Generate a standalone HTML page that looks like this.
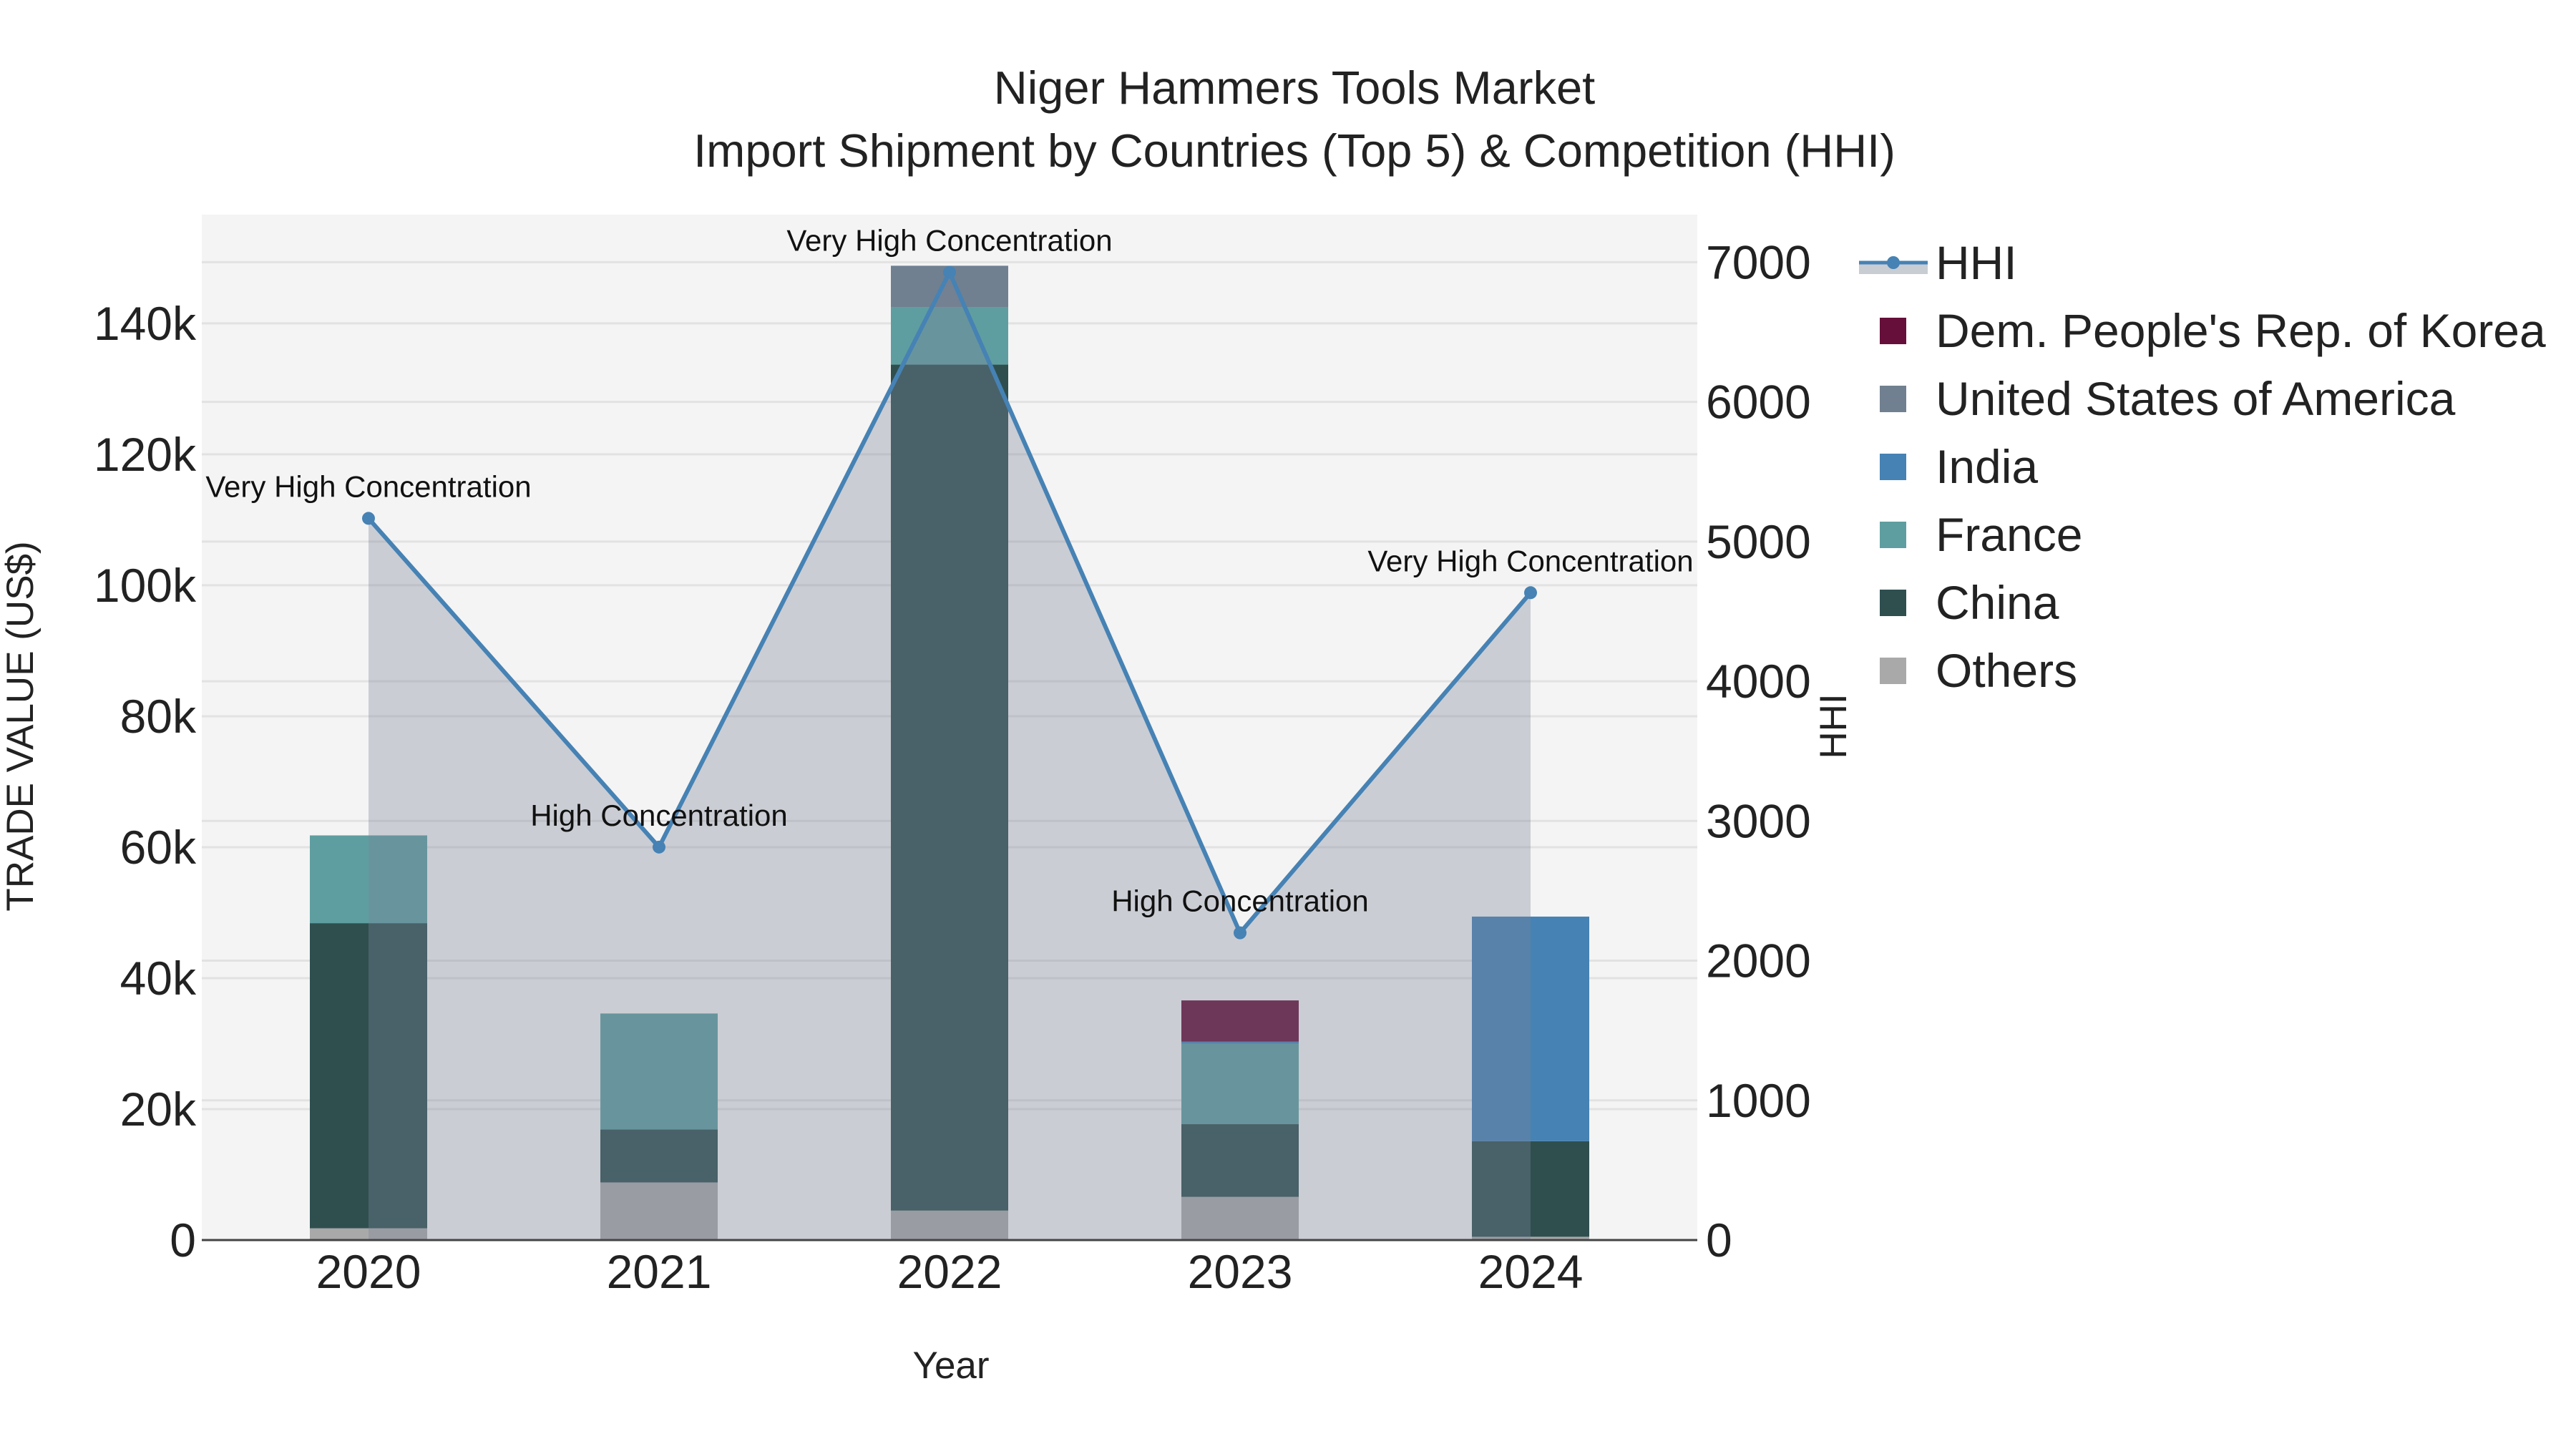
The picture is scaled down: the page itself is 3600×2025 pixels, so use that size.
<!DOCTYPE html>
<html><head><meta charset="utf-8"><style>
html,body{margin:0;padding:0;background:#fff}
svg{display:block;font-family:"Liberation Sans",sans-serif}
</style></head><body>
<svg id="chart" width="3600" height="2025" viewBox="0 0 3600 2025" xmlns="http://www.w3.org/2000/svg">
<rect x="0" y="0" width="3600" height="2025" fill="#fff"/>
<text x="1809" y="145" font-size="65" text-anchor="middle" fill="#222">Niger Hammers Tools Market</text>
<text x="1809" y="233" font-size="65" text-anchor="middle" fill="#222">Import Shipment by Countries (Top 5) &amp; Competition (HHI)</text>
<rect x="282" y="300" width="2090" height="1433" fill="#f4f4f4"/>
<g id="grid"></g>
<g id="bars"></g>
<g id="hhi"></g>
<g id="axes"></g>
<text transform="translate(46,1015) rotate(-90)" font-size="53" text-anchor="middle" fill="#222">TRADE VALUE (US$)</text>
<text x="1329" y="1926" font-size="53" text-anchor="middle" fill="#222">Year</text>
<text transform="translate(2580,1015) rotate(-90)" font-size="53" text-anchor="middle" fill="#222">HHI</text>
<g id="legend"></g>
</svg>
<script>
const years = ["2020","2021","2022","2023","2024"];
const others = [1800, 8800, 4500, 6600, 500];
const china = [46600, 8100, 129200, 11100, 14600];
const france = [13400, 17700, 8800, 12300, 0];
const india = [0, 0, 0, 300, 34300];
const usa = [0, 0, 6300, 0, 0];
const korea = [0, 0, 0, 6300, 0];
const hhi = [5166, 2813, 6927, 2199, 4634];
const hhiLabels = ["Very High Concentration","High Concentration","Very High Concentration","High Concentration","Very High Concentration"];
const yTicks = [0,20000,40000,60000,80000,100000,120000,140000];
const yTickLabels = ["0","20k","40k","60k","80k","100k","120k","140k"];
const y2Ticks = [0,1000,2000,3000,4000,5000,6000,7000];

const NS="http://www.w3.org/2000/svg";
const L=282,R=2372,T=300,B=1733;
const yMax=156600, y2Max=7340;
const yS=v=>B-(v/yMax)*(B-T);
const y2S=v=>B-(v/y2Max)*(B-T);
const xS=i=>515+i*406;
function mk(tag,attrs,parent){const e=document.createElementNS(NS,tag);for(const k in attrs)e.setAttribute(k,attrs[k]);parent.appendChild(e);return e;}
const grid=document.getElementById('grid'),bars=document.getElementById('bars'),hg=document.getElementById('hhi'),axes=document.getElementById('axes'),leg=document.getElementById('legend');

yTicks.forEach((v,i)=>{
  if(v>0){const g=mk('line',{x1:L,x2:R,y1:yS(v),y2:yS(v),stroke:'#e2e2e2','stroke-width':3},grid);
  
  }
  const t=mk('text',{x:L-8,y:yS(v)+23,'font-size':66,'text-anchor':'end',fill:'#222'},axes);
  t.textContent=yTickLabels[i];
  
  
});
y2Ticks.forEach(v=>{
  if(v>0){const g=mk('line',{x1:L,x2:R,y1:y2S(v),y2:y2S(v),stroke:'#e2e2e2','stroke-width':3},grid);
  
  }
  const t=mk('text',{x:R+12,y:y2S(v)+23,'font-size':66,fill:'#222'},axes);
  t.textContent=String(v);
  
  
});
const series=[["others",others,"#a9a9a9"],["china",china,"#2f4f4f"],["france",france,"#5f9ea0"],["india",india,"#4682b4"],["usa",usa,"#708090"],["korea",korea,"#660f3a"]];
years.forEach((yr,i)=>{
  let acc=0;
  series.forEach(([nm,arr,col])=>{
    const v=arr[i]; if(!v) return;
    const r=mk('rect',{x:xS(i)-82,width:164,y:yS(acc+v),height:yS(acc)-yS(acc+v),fill:col},bars);
    
    
    acc+=v;
  });
  const t=mk('text',{x:xS(i),y:1800,'font-size':66,'text-anchor':'middle',fill:'#222'},axes);
  t.textContent=yr;
  
  
});
let pts=hhi.map((v,i)=>xS(i)+','+y2S(v)).join(' ');
const area=mk('polygon',{points:xS(0)+','+B+' '+pts+' '+xS(4)+','+B,fill:'rgb(122,132,152)','fill-opacity':0.35},hg);


const ln=mk('polyline',{points:pts,fill:'none',stroke:'#4682b4','stroke-width':6},hg);


hhi.forEach((v,i)=>{
  const c=mk('circle',{cx:xS(i),cy:y2S(v),r:9,fill:'#4682b4'},hg);
  
  
  const t=mk('text',{x:xS(i),y:y2S(v)-30,'font-size':42,'text-anchor':'middle',fill:'#111'},hg);
  t.textContent=hhiLabels[i];
  
  
});
const ax=mk('line',{x1:L,x2:R,y1:B,y2:B,stroke:'#444','stroke-width':3},axes);



// legend
const lx=2598, tx=2705, ly0=367, dy=95;
mk('rect',{x:lx,y:ly0+2,width:96,height:14,fill:'#c8ccd3'},leg);
mk('line',{x1:lx,x2:lx+96,y1:ly0,y2:ly0,stroke:'#4682b4','stroke-width':5},leg);
mk('circle',{cx:lx+48,cy:ly0,r:9,fill:'#4682b4'},leg);
const legNames=["HHI","Dem. People's Rep. of Korea","United States of America","India","France","China","Others"];
const legCols=[null,"#660f3a","#708090","#4682b4","#5f9ea0","#2f4f4f","#a9a9a9"];
legNames.forEach((n,i)=>{
  const y=ly0+i*dy;
  if(legCols[i]){const s=mk('rect',{x:2627,y:y-18,width:37,height:37,fill:legCols[i]},leg);
    
    }
  const t=mk('text',{x:tx,y:y+23,'font-size':66,fill:'#222'},leg);
  t.textContent=n;
  
  
});
</script>
</body></html>
